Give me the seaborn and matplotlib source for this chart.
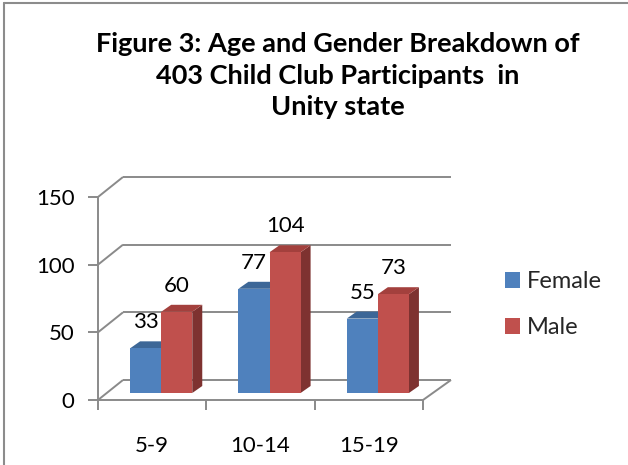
import matplotlib
matplotlib.use("Agg")
import matplotlib.pyplot as plt
import seaborn as sns
import pandas as pd
import numpy as np
from matplotlib.patches import Polygon, Patch
from matplotlib.lines import Line2D
from matplotlib.transforms import IdentityTransform

# ---- data ----
age_groups = ["5-9", "10-14", "15-19"]
female = [33, 77, 55]
male = [60, 104, 73]
series_names = ["Female", "Male"]
y_ticks = [0, 50, 100, 150]
title = "Figure 3: Age and Gender Breakdown of\n403 Child Club Participants  in\nUnity state"

df = pd.DataFrame({
    "age": age_groups * 2,
    "count": female + male,
    "gender": [series_names[0]] * 3 + [series_names[1]] * 3,
})

sns.set_theme(style="white")
plt.rcParams["font.family"] = ["Lato", "DejaVu Sans"]

W, H, DPI = 628, 465, 100
fig = plt.figure(figsize=(W / DPI, H / DPI), dpi=DPI)
ax = fig.add_axes([98 / W, (H - 400) / H, 325 / W, 203 / H])

front_cols = ["#4f81bd", "#c0504d"]
top_cols = ["#3d6797", "#a3403d"]
side_cols = ["#355a86", "#7e3230"]
grid_col = "#8a8a8a"
FS = 16

sns.barplot(data=df, x="age", y="count", hue="gender", palette=front_cols,
            width=0.574, ax=ax, legend=False, saturation=1, edgecolor="none",
            linewidth=0, zorder=3)
ax.set_xlim(-0.5, 2.5)
ax.set_ylim(0, 150)
for s in ax.spines.values():
    s.set_visible(False)
ax.set_xlabel("")
ax.set_ylabel("")

BACK = (25, 20)      # back wall offset (pixels)
SHIFT = (9, 7)       # bar position offset (pixels)
DEPTH = (10, 7)      # bar depth (pixels)

def to_px(x, y):
    return ax.transData.transform((x, y))

fig.canvas.draw()
ident = IdentityTransform()

def pline(pts, **kw):
    xs = [p[0] for p in pts]
    ys = [p[1] for p in pts]
    ln = Line2D(xs, ys, transform=ident, color=grid_col, lw=1.4,
                solid_capstyle="butt", **kw)
    fig.add_artist(ln)

# back wall gridlines and left wall diagonals
for v in y_ticks:
    a = to_px(-0.5, v)
    b = to_px(2.5, v)
    pline([(a[0] + BACK[0], a[1] + BACK[1]), (b[0] + BACK[0] + 3, b[1] + BACK[1])], zorder=1)
    pline([a, (a[0] + BACK[0], a[1] + BACK[1])], zorder=1)
# floor
f0 = to_px(-0.5, 0)
f1 = to_px(2.5, 0)
pline([f0, f1], zorder=1)
pline([f1, (f1[0] + BACK[0] + 3, f1[1] + BACK[1])], zorder=1)
# front left axis line
t0 = to_px(-0.5, 150)
pline([f0, t0], zorder=1)

# 3D bars
patches = [p for p in ax.patches]
for i, p in enumerate(patches):
    hue_idx = i // len(age_groups)
    cat_idx = i % len(age_groups)
    z = 3 + cat_idx * 0.1 + hue_idx * 0.02
    x0, x1 = p.get_x(), p.get_x() + p.get_width()
    h = p.get_height()
    a = to_px(x0, 0)
    b = to_px(x1, h)
    fx0, fx1 = a[0] + SHIFT[0], b[0] + SHIFT[0]
    fy0, fy1 = a[1] + SHIFT[1], b[1] + SHIFT[1]
    p.set_visible(False)
    front = Polygon([(fx0, fy0), (fx1, fy0), (fx1, fy1), (fx0, fy1)],
                    closed=True, transform=ident, facecolor=front_cols[hue_idx],
                    edgecolor="none", zorder=z + 0.005)
    top = Polygon([(fx0, fy1), (fx1, fy1), (fx1 + DEPTH[0], fy1 + DEPTH[1]),
                   (fx0 + DEPTH[0], fy1 + DEPTH[1])], closed=True, transform=ident,
                  facecolor=top_cols[hue_idx], edgecolor="none", zorder=z)
    side = Polygon([(fx1, fy0), (fx1 + DEPTH[0], fy0 + DEPTH[1]),
                    (fx1 + DEPTH[0], fy1 + DEPTH[1]), (fx1, fy1)], closed=True,
                   transform=ident, facecolor=side_cols[hue_idx], edgecolor="none", zorder=z)
    for poly in (side, top, front):
        fig.add_artist(poly)
    # data label
    fig.text((fx0 + fx1) / 2 / W, (fy1 + 26) / H, f"{int(round(h))}",
             ha="center", va="center", fontsize=FS, color="black", zorder=10)

# ticks
ax.set_yticks(y_ticks)
ax.set_yticklabels([str(v) for v in y_ticks])
ax.tick_params(axis="y", which="major", left=True, length=7, width=1.4,
               color=grid_col, labelsize=FS, pad=10, labelcolor="black")
ax.set_xticks(range(len(age_groups)))
ax.set_xticklabels(age_groups)
ax.tick_params(axis="x", which="major", bottom=False, length=0, labelsize=FS,
               pad=26, labelcolor="black")
ax.set_xticks([-0.5, 0.5, 1.5, 2.5], minor=True)
ax.tick_params(axis="x", which="minor", bottom=True, length=7, width=1.4, color=grid_col)
ax.patch.set_alpha(0)

# legend
handles = [Patch(facecolor=c, edgecolor="none") for c in front_cols]
fig.legend(handles, series_names, loc="upper left",
           bbox_to_anchor=(505 / W, 1 - 271 / H), frameon=False, fontsize=17,
           handlelength=0.64, handleheight=0.64, handletextpad=0.3,
           labelspacing=1.07, borderpad=0, borderaxespad=0)

# title
fig.text(338 / W, 1 - 32 / H, title, ha="center", va="top", fontsize=19.5,
         fontweight="bold", linespacing=1.38, color="black")

# outer border (top and left edges visible)
fig.add_artist(Line2D([4 / W, 4 / W], [0, 1 - 3 / H], transform=fig.transFigure,
                      color="#8c8c8c", lw=1.5))
fig.add_artist(Line2D([4 / W, 1], [1 - 3 / H, 1 - 3 / H], transform=fig.transFigure,
                      color="#8c8c8c", lw=1.5))

fig.savefig("out.png", dpi=DPI)
